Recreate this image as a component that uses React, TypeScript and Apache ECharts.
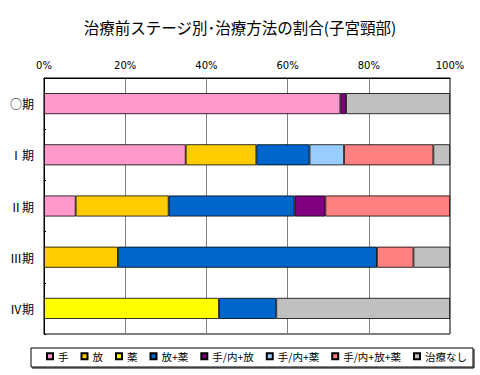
import React, { useEffect, useRef } from "react";
import * as echarts from "echarts";

const titleText = "治療前ステージ別･治療方法の割合(子宮頸部)";
const categories = ["○期", "Ⅰ期", "Ⅱ期", "Ⅲ期", "Ⅳ期"];
const seriesNames = ["手", "放", "薬", "放+薬", "手/内+放", "手/内+薬", "手/内+放+薬", "治療なし"];
const seriesColors = ["#FF99CC", "#FFCC00", "#FFFF00", "#0066CC", "#800080", "#99CCFF", "#FF8080", "#C0C0C0"];
// percent values per series, in category order (null = none)
const vShu = [73.0, 34.9, 7.8, null, null];
const vHou = [null, 17.4, 22.9, 18.2, null];
const vYaku = [null, null, null, null, 43.1];
const vHouYaku = [null, 13.1, 31.0, 63.8, 14.1];
const vShuHou = [1.4, null, 7.6, null, null];
const vShuYaku = [null, 8.5, null, null, null];
const vShuHouYaku = [null, 22.0, 30.7, 9.0, null];
const vNone = [25.6, 4.1, null, 9.0, 42.8];
const seriesValues = [vShu, vHou, vYaku, vHouYaku, vShuHou, vShuYaku, vShuHouYaku, vNone];
const xTicks = [0, 20, 40, 60, 80, 100];

export default function App() {
  const ref = useRef<HTMLDivElement>(null);
  useEffect(() => {
    if (!ref.current) return;
    const chart = echarts.init(ref.current, null, { renderer: "svg" });
    const font = "'Noto Sans CJK JP', sans-serif";
    chart.setOption({
      animation: false,
      backgroundColor: "#ffffff",
      textStyle: { fontFamily: font },
      title: {
        text: titleText,
        left: "center",
        top: 14,
        textStyle: { fontSize: 15.5, fontWeight: "normal", color: "#000", fontFamily: font },
      },
      grid: {
        left: 44,
        right: 30,
        top: 78,
        bottom: 41,
        show: true,
        borderColor: "#000",
        borderWidth: 1,
        backgroundColor: "transparent",
      },
      xAxis: {
        type: "value",
        position: "top",
        min: xTicks[0],
        max: xTicks[xTicks.length - 1],
        interval: 20,
        axisLabel: {
          formatter: (v: number) => v + "%",
          fontSize: 10,
          color: "#000",
          margin: 8,
          fontFamily: "'DejaVu Sans', sans-serif",
        },
        axisLine: { show: true, lineStyle: { color: "#000" } },
        axisTick: { show: false },
        splitLine: { show: true, lineStyle: { color: "#808080", width: 1 } },
      },
      yAxis: {
        type: "category",
        data: categories,
        inverse: true,
        axisLabel: { fontSize: 12, color: "#000", margin: 10 },
        axisLine: { show: true, lineStyle: { color: "#000" } },
        axisTick: { show: true, inside: true, length: 2, lineStyle: { color: "#000" } },
      },
      legend: {
        data: seriesNames,
        left: 46,
        top: 351,
        itemWidth: 6,
        itemHeight: 6,
        itemGap: 12,
        icon: "rect",
        textStyle: { fontSize: 10.5, color: "#000" },
        padding: 0,
      },
      graphic: [
        {
          type: "rect",
          shape: { x: 31, y: 348, width: 442, height: 19 },
          style: { fill: "none", stroke: "#000", lineWidth: 1 },
          z: 1,
        },
        {
          type: "polyline",
          shape: { points: [[474, 349], [474, 368], [32, 368]] },
          style: { fill: "none", stroke: "#000", lineWidth: 1 },
          z: 1,
        },
      ],
      series: seriesNames.map((name, i) => ({
        name,
        type: "bar",
        stack: "total",
        barWidth: 21,
        data: seriesValues[i].map((v) => (v === null ? "-" : v)),
        itemStyle: { color: seriesColors[i], borderColor: "#000", borderWidth: 0.8 },
      })),
    });
    return () => chart.dispose();
  }, []);
  return <div ref={ref} style={{ width: 480, height: 375, position: "absolute", left: 0, top: 0 }} />;
}
